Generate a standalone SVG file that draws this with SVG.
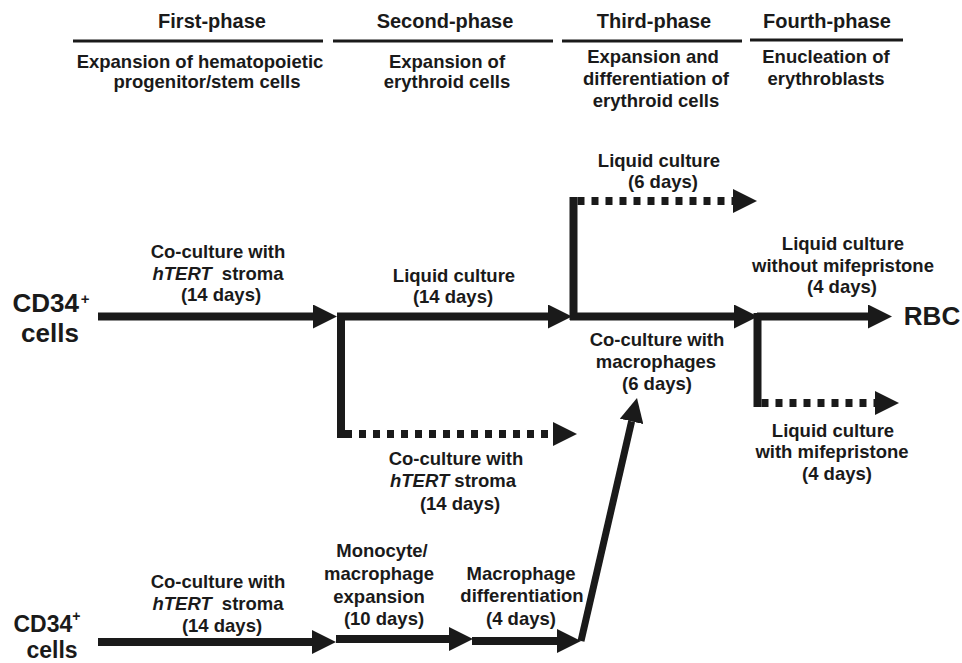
<svg xmlns="http://www.w3.org/2000/svg" width="962" height="663" viewBox="0 0 962 663">
<defs>
<style>
text{font-family:"Liberation Sans",Arial,sans-serif;font-weight:bold;fill:#1a1a1a;text-anchor:middle}
.h{font-size:20px}
.s{font-size:18.5px}
.l{font-size:18.5px}
.big{font-size:26px}
.big2{font-size:23px}
.rule{stroke:#1a1a1a;stroke-width:3}
.sh{stroke:#1a1a1a;stroke-width:8;fill:none}
.dot{stroke:#1a1a1a;stroke-width:8;stroke-dasharray:7 7;fill:none}
.i{font-style:italic}
</style>
<marker id="ah" markerUnits="userSpaceOnUse" markerWidth="24" markerHeight="24" refX="0" refY="12" orient="auto" viewBox="0 0 24 24">
<path d="M0,0 L24,12 L0,24 z" fill="#1a1a1a"/>
</marker>
</defs>
<g id="headers">
<text class="h" x="212" y="28">First-phase</text>
<text class="h" x="445" y="28">Second-phase</text>
<text class="h" x="654" y="28">Third-phase</text>
<text class="h" x="827" y="28">Fourth-phase</text>
<line class="rule" x1="73" y1="41" x2="323" y2="41"/>
<line class="rule" x1="333" y1="41" x2="553" y2="41"/>
<line class="rule" x1="562" y1="41" x2="742" y2="41"/>
<line class="rule" x1="750" y1="40" x2="903" y2="40"/>
<text class="s" x="200" y="68">Expansion of hematopoietic</text>
<text class="s" x="207" y="88">progenitor/stem cells</text>
<text class="s" x="447" y="68">Expansion of</text>
<text class="s" x="447" y="88">erythroid cells</text>
<text class="s" x="653" y="63">Expansion and</text>
<text class="s" x="656" y="85">differentiation of</text>
<text class="s" x="656" y="107">erythroid cells</text>
<text class="s" x="826" y="63">Enucleation of</text>
<text class="s" x="826" y="85">erythroblasts</text>
</g>
<g id="connectors">
<line class="sh" x1="98" y1="316.5" x2="313" y2="316.5" marker-end="url(#ah)"/>
<line class="sh" x1="337" y1="316.5" x2="548" y2="316.5" marker-end="url(#ah)"/>
<line class="sh" x1="341" y1="313" x2="341" y2="438"/>
<line class="dot" x1="345" y1="434" x2="553" y2="434" marker-end="url(#ah)"/>
<line class="sh" x1="573.5" y1="197" x2="573.5" y2="320"/>
<line class="dot" x1="577.5" y1="201" x2="733" y2="201" marker-end="url(#ah)"/>
<line class="sh" x1="570" y1="316.5" x2="734" y2="316.5" marker-end="url(#ah)"/>
<line class="sh" x1="757.5" y1="313" x2="757.5" y2="407"/>
<line class="dot" x1="761.5" y1="403" x2="875" y2="403" marker-end="url(#ah)"/>
<line class="sh" x1="757" y1="316.5" x2="868" y2="316.5" marker-end="url(#ah)"/>
<line class="sh" x1="98" y1="642" x2="312" y2="642" marker-end="url(#ah)"/>
<line class="sh" x1="336" y1="639" x2="449" y2="639" marker-end="url(#ah)"/>
<line class="sh" x1="472" y1="641" x2="557" y2="641" marker-end="url(#ah)"/>
<line class="sh" style="stroke-width:7" x1="581" y1="641" x2="631.6" y2="421.4" marker-end="url(#ah)"/>
</g>
<g id="cd34-top">
<text class="big" x="51" y="312">CD34<tspan font-size="15" dx="2" dy="-8">+</tspan></text>
<text class="big" x="50" y="342">cells</text>
</g>
<g id="cd34-bottom">
<text class="big2" x="47" y="632">CD34<tspan font-size="14" dy="-11">+</tspan></text>
<text class="big2" x="52" y="658">cells</text>
</g>
<g id="rbc">
<text class="big" x="932" y="325">RBC</text>
</g>
<g id="label-coculture-top">
<text class="l" x="218" y="258">Co-culture with</text>
<text class="l" x="218" y="280"><tspan class="i">hTERT</tspan><tspan dx="5"> stroma</tspan></text>
<text class="l" x="221" y="301">(14 days)</text>
</g>
<g id="label-liquid-14">
<text class="l" x="454" y="282">Liquid culture</text>
<text class="l" x="453" y="303">(14 days)</text>
</g>
<g id="label-coculture-stroma-dotted">
<text class="l" x="456" y="465">Co-culture with</text>
<text class="l" x="453" y="487"><tspan class="i">hTERT</tspan> stroma</text>
<text class="l" x="460" y="510">(14 days)</text>
</g>
<g id="label-liquid-6">
<text class="l" x="659" y="167">Liquid culture</text>
<text class="l" x="663" y="188">(6 days)</text>
</g>
<g id="label-macrophages">
<text class="l" x="657" y="346">Co-culture with</text>
<text class="l" x="656" y="368">macrophages</text>
<text class="l" x="657" y="390">(6 days)</text>
</g>
<g id="label-without">
<text class="l" x="843" y="250">Liquid culture</text>
<text class="l" x="843" y="272">without mifepristone</text>
<text class="l" x="842" y="293">(4 days)</text>
</g>
<g id="label-with">
<text class="l" x="833" y="437">Liquid culture</text>
<text class="l" x="832" y="458">with mifepristone</text>
<text class="l" x="837" y="480">(4 days)</text>
</g>
<g id="label-coculture-bottom">
<text class="l" x="218" y="588">Co-culture with</text>
<text class="l" x="218" y="610"><tspan class="i">hTERT</tspan><tspan dx="5"> stroma</tspan></text>
<text class="l" x="222" y="632">(14 days)</text>
</g>
<g id="label-monocyte">
<text class="l" x="382" y="557">Monocyte/</text>
<text class="l" x="379" y="580">macrophage</text>
<text class="l" x="379" y="603">expansion</text>
<text class="l" x="384" y="625">(10 days)</text>
</g>
<g id="label-macdiff">
<text class="l" x="521" y="580">Macrophage</text>
<text class="l" x="522" y="602">differentiation</text>
<text class="l" x="521" y="625">(4 days)</text>
</g>
</svg>
